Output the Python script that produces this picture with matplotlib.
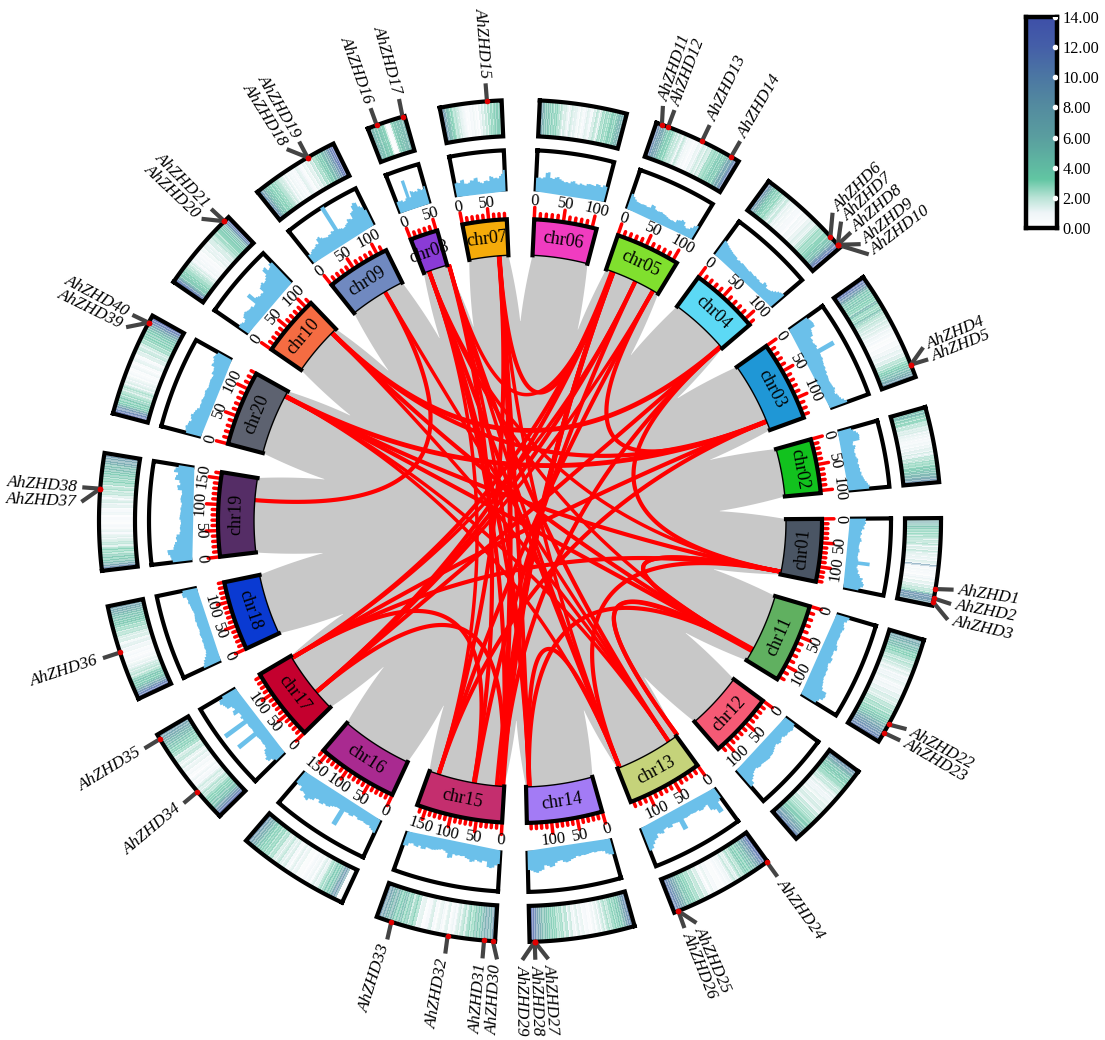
import matplotlib
matplotlib.use("Agg")
import matplotlib.pyplot as plt
from matplotlib.colors import LinearSegmentedColormap
import numpy as np

plt.rcParams['font.family'] = ['Liberation Serif', 'DejaVu Serif']

chr_names = ["chr%02d" % i for i in range(1, 21)]
chr_colors = ["#4a5564", "#12c21e", "#1f97d6", "#5cd9f5", "#80e02e", "#f03cc0", "#f5ab0a", "#8a3bd6", "#7089c0", "#f56c42",
              "#60b060", "#f55a75", "#c5d37a", "#a37bf5", "#c42e6e", "#a92a90", "#c4002e", "#0a3ad2", "#552d66", "#5d6270"]
# sector edges in degrees, clockwise from north
chr_start = [89.6, 74.3, 54.6, 36.2, 18.9, 2.7, 349.0, 338.8, 321.4, 304.6,
             106.4, 126.5, 144.0, 164.2, 183.4, 205.0, 225.5, 245.0, 263.2, 284.8]
chr_end = [101.6, 84.7, 70.0, 49.5, 31.3, 14.7, 357.5, 344.1, 333.7, 316.2,
           121.6, 139.0, 158.5, 178.7, 199.9, 220.6, 239.5, 258.3, 279.3, 299.2]
chr_len = [132, 105, 135, 112, 108, 108, 84, 52, 118, 112,
           125, 118, 135, 148, 168, 160, 145, 140, 162, 130]

line01 = [.36, .34, .36, .33, .3, .32, .26, .24, .26, .23, .22, .25, .26, .22, .21, .2, .2, .22, .23, .2, .2, .19, .2, .22, .52, .52, .22, .2, .23, .26, .25, .3, .32, .4, .38, .42, .45, .44, .38, .34]
line02 = [.3, .34, .4, .44, .46, .45, .44, .26, .24, .3, .28, .25, .24, .26, .25, .27, .3, .29, .27, .3, .29, .31, .3, .33, .32, .35, .37, .39, .43, .46, .5, .48]
line03 = [.5, .53, .55, .56, .55, .42, .4, .38, .3, .31, .28, .3, .32, .29, .74, .74, .3, .29, .3, .27, .26, .24, .25, .22, .23, .2, .21, .2, .19, .2, .21, .22, .25, .22, .2, .25, .27, .3, .36, .42]
line04 = [.4, .38, .35, .32, .3, .28, .26, .25, .24, .2, .22, .2, .22, .21, .2, .19, .18, .2, .19, .18, .2, .18, .19, .17, .18, .26, .24, .18, .19, .21, .25, .3, .35, .38, .4]
line05 = [.36, .3, .25, .21, .2, .19, .2, .2, .18, .19, .28, .27, .2, .18, .19, .2, .18, .17, .15, .13, .12, .13, .12, .2, .22, .26, .24, .15, .12, .14, .2, .28, .32]
line06 = [.3, .31, .29, .32, .44, .46, .32, .3, .34, .36, .31, .28, .25, .26, .24, .29, .31, .26, .24, .28, .26, .25, .3, .31, .3, .29, .35, .34, .3, .36, .34]
line07 = [.3, .31, .29, .35, .36, .25, .24, .26, .31, .3, .35, .36, .25, .22, .2, .25, .26, .24, .36, .34, .3, .31, .29, .35, .4, .5]
line08 = [.25, .26, .24, .25, .2, .21, .26, .72, .72, .25, .4, .38, .35, .36, .34, .4, .38, .34, .36, .42]
line09 = [.2, .18, .22, .25, .24, .26, .3, .28, .4, .42, .36, .32, .3, .28, .31, .3, .35, .33, 1.0, 1.0, .3, .28, .25, .26, .3, .32, .4, .38, .35, .5, .52, .65, .7, .68, .55, .5, .4]
line10 = [.25, .26, .24, .2, .22, .3, .33, .35, .32, .3, .29, .3, .25, .26, .55, .55, .36, .33, .3, .32, .3, .44, .47, .5, .45, .46, .5, .55, .7, .72, .6, .62, .7, .68]
line11 = [.3, .26, .2, .22, .25, .22, .2, .21, .2, .19, .2, .24, .26, .2, .21, .2, .25, .24, .2, .22, .25, .24, .26, .25, .27, .3, .32, .36, .5, .52, .5, .42, .38]
line12 = [.25, .28, .3, .27, .25, .26, .24, .2, .22, .26, .24, .2, .22, .25, .28, .3, .3, .32, .31, .3, .29, .28, .3, .28, .25, .27, .3, .36, .4, .5, .52]
line13 = [.25, .3, .56, .56, .42, .38, .2, .22, .25, .24, .2, .21, .2, .19, .2, .21, .2, .46, .46, .21, .2, .19, .25, .24, .2, .22, .3, .28, .25, .35, .38, .46, .55, .58]
line14 = [.36, .34, .3, .22, .2, .19, .2, .18, .19, .2, .21, .2, .22, .2, .24, .26, .3, .32, .3, .25, .26, .3, .38, .4, .36, .34, .45, .48, .52, .5, .46, .44]
line15 = [.3, .34, .4, .42, .4, .26, .25, .3, .28, .25, .3, .32, .26, .24, .2, .21, .2, .22, .2, .3, .32, .2, .16, .14, .16, .18, .2, .21, .2, .19, .25, .26, .2, .25, .24, .2, .22, .3, .32]
line16 = [.32, .28, .25, .2, .21, .2, .18, .19, .2, .16, .15, .2, .21, .18, .19, .62, .62, .2, .2, .22, .25, .3, .32, .3, .35, .36, .3, .32, .4, .42, .5, .48, .4, .38, .4, .3, .32, .3]
line17 = [.25, .3, .4, .42, .36, .34, .3, .22, .2, .21, .2, .19, .2, .21, .75, .75, .2, .19, .2, .21, .2, .85, .85, .22, .25, .2, .21, .35, .33, .25, .28, .4, .42, .45, .5, .48, .36]
line18 = [.42, .38, .35, .3, .25, .22, .2, .21, .2, .19, .2, .18, .19, .2, .18, .17, .18, .19, .18, .2, .19, .18, .17, .18, .2, .21, .22, .25, .24, .26, .35, .36, .33]
line19 = [.45, .48, .5, .55, .56, .4, .38, .35, .3, .32, .3, .22, .2, .21, .2, .18, .19, .22, .21, .2, .19, .2, .18, .17, .2, .21, .2, .18, .19, .3, .32, .25, .28, .4, .38, .34, .45, .42, .35]
line20 = [.35, .38, .4, .36, .35, .3, .33, .35, .3, .28, .25, .2, .21, .2, .22, .2, .19, .2, .22, .2, .18, .19, .2, .21, .2, .19, .25, .24, .26, .35, .33, .36, .4, .38, .35]
line_values = [line01, line02, line03, line04, line05, line06, line07, line08, line09, line10,
               line11, line12, line13, line14, line15, line16, line17, line18, line19, line20]

heat01 = [7, 6, 6.5, 5, 4, 4.5, 3, 3.5, 2.5, 3, 2, 2.8, 1.5, 2.4, 1.8, 2.6, 1, 2, 1.4, 2.4, 1, 1.6, .8, 1.4, 1, 1.8, 1.2, 9, 1, .6, 1, .4, .8, .3, 1, 1.2, .6, 1.6, 1, 2, 1.4, 2.4, 2, 3, 9, 9.5, 8.5, 9, 8, 7.5]
heat02 = [6, 5, 4, 7, 3, 4, 2.5, 3.2, 2.8, 1.5, 2.4, 2, 1, 1.8, 1.6, .8, 1.4, .7, 1.2, .4, .9, .6, 1.1, .5, 1.3, .8, 1.6, 1.2, 2, 1, 1.5, 2.5, 2, 2.2, 3, 2.4, 2.8, 3.4, 4, 3.2, 5, 4.5, 6, 5.5, 7, 8, 10, 11]
heat03 = [13, 12, 11, 9, 7, 5, 4, 3.5, 4.5, 3, 3.5, 2.8, 6, 3.2, 2.5, 2.9, 5, 2.2, 2.6, 1.8, 2.2, 1.5, 1.9, 1.2, 1.6, .8, 1.2, .5, 1, .3, .6, .2, .9, .4, 1.2, .8, 1.5, 1, 1.8, 1.4, 2.6, 2.2, 3, 3.5, 4, 4.8, 5.5, 6.5, 8, 9]
heat04 = [11, 10, 8, 6, 5, 3.5, 4, 3, 2.6, 3.2, 2, 2.4, 1.5, 2.2, 1.8, 1, 1.4, .6, 1.2, .3, 1, .5, .8, .2, 1.2, .7, 1, .4, 1.4, 1, 1.8, 1.2, 1.5, 2.4, 2, 2.6, 3, 2.4, 2.8, 3.4, 3, 3.5, 4.5, 4, 5, 7, 9, 11, 12, 13]
heat05 = [12, 11, 9, 7.5, 8, 6, 5, 3.5, 4, 3, 3.4, 2, 2.5, 1.5, 2.4, 1, 1.8, 2.2, .8, 1.2, .6, 1, .3, .8, .5, 1.4, 1, 1.6, 2, 1.4, 2.4, 1.2, 2, 3, 2.4, 3.2, 2.6, 4, 3.5, 4.4, 3, 5, 6, 8, 7, 9, 11, 12]
heat06 = [9, 8, 6, 5, 4, 5, 3, 4, 2.5, 3.5, 3, 2, 2.6, 1, 2, 1.6, .8, 1.4, 2, 1, 1.6, 1.2, .6, 1.4, .3, .8, 1.2, 1.6, 1, .7, 2, 1.4, 2.6, 1.2, 2, 3, 2.4, 3.5, 2.5, 3, 3.5, 4, 3, 4.5, 5, 5.5, 6, 7]
heat07 = [11, 10, 8, 6, 4.5, 5, 3, 3.5, 2.5, 2, 2.6, 1.5, 2, .8, 1.4, .5, 1, .2, .5, .3, 1, .4, 1.2, .6, .8, .2, 1.4, 1, 2, 1.2, 2.4, 1.8, 2.8, 2.2, 3.4, 2.6, 3, 4, 3.6, 4.2, 3.4, 4.8]
heat08 = [5, 6, 5.5, 4.5, 5, 4, 4.5, 3.5, 4, 3.5, 3, .6, .2, .3, 1, 3, 4, 4.5, 4, 5, 4.5, 5.5, 5, 6, 6.5]
heat09 = [11, 10, 8, 6, 4, 4.5, 3.5, 3, 3.6, 2.5, 3, 2, 2.4, 1.4, 2, 1, 1.5, .6, 1.2, .5, 1, .3, 1, 1.6, 1, .8, .3, 1.4, .7, 1.8, 1.2, 2.4, 1.6, 3, 2.2, 3.6, 4, 3.4, 5.5, 5, 7, 8, 10, 12, 13, 12]
heat10 = [13, 12, 10, 7, 4.5, 3.5, 4, 3, 3.4, 2.4, 2.8, 2, 2.2, 1.4, 1.8, 1, .6, 1.2, .4, 1, .2, .8, .3, 1.2, .6, 1.6, 1, 1.4, .8, 2, 1.4, 1.8, 2.4, 2, 3, 2.6, 3.4, 3, 4, 3.4, 4.6, 5, 7, 10, 12, 13]
heat11 = [6, 7, 6.5, 5.5, 4.5, 5, 3.5, 3, 3.4, 2.4, 2, 2.6, 1.6, 2, 1.2, 1.6, .8, 1.2, 1, 1.4, .5, .9, 1.2, .8, 1.6, 1.2, 2, 1.4, 1.8, 2.6, 2, 3, 2.4, 3.6, 3, 4.5, 4, 6, 7, 8.5, 9, 10, 11, 11.5]
heat12 = [10, 9, 8, 6, 5, 4, 3.5, 4, 3, 3.4, 2.4, 2.8, 1.6, 2.2, 2, 1.2, 1.6, .8, 1.2, 1, 1.4, .6, 1.8, 1.2, 2, 1.6, 1, 2.4, 2, 2.8, 2.2, 3, 2.6, 3.5, 4, 3.4, 5.5, 6, 7.5, 9, 10, 12]
heat13 = [13, 12.5, 11, 9, 7, 6, 4, 5, 3.2, 3.6, 4, 2.6, 2, 2.8, 1.2, 1.6, 2.2, .8, 1.2, .5, 1, .2, .6, .3, 1, .6, 1.4, .2, 1, 2, 1.4, 2.6, 1.8, 3, 2.4, 3.6, 3, 4.5, 4, 6, 7, 8.5, 10, 11, 12]
heat14 = [11, 10, 9, 7, 5, 3.5, 4, 2.8, 3.4, 2.4, 2, 2.8, 1.5, 2.2, .8, 1.6, .5, 1.2, .2, .4, 1, .3, 1.4, .8, 1.8, .5, 1.2, 2.2, 1, 2.8, 2, 3, 2.4, 2.6, 3.4, 3, 4, 3.4, 5, 4.5, 6, 7, 9, 11, 13, 12]
heat15 = [10, 8, 5.5, 7, 6, 5, 3.5, 4.5, 3, 2.5, 3.4, 1.8, 2.6, 1.4, 2, .8, 1.2, .4, 1.8, .6, 1, 1.4, .3, .8, 2, 1, .5, .2, 1.6, 1, 2.8, 3.6, 2.2, 4, 3, 5, 4, 3.5, 5, 6, 5, 7, 8, 10]
heat16 = [1.5, .3, .2, 7, 9, 6, 4, 3.5, 4, 2.2, 3, 1.6, 1, 1.8, .5, 1.2, .4, 1, .2, .6, .3, 1.4, .8, 1.6, .4, 1, 2, 1.2, 1.5, 2.4, 1.2, 1.8, 2.8, 2.2, 3.2, 2.6, 3.6, 3, 4, 4.6, 6, 7, 8.5, 10]
heat17 = [13, 12, 10, 8, 5.5, 4, 4.5, 3.5, 3, 3.4, 2.4, 2, 2.6, 1.2, 1.6, 2, .8, 1, .5, 1.2, .2, .6, 1, .4, 1.4, .8, 1.8, .6, 1.4, 2.4, 2, 1.6, 3, 2.6, 3.6, 3, 4.5, 4, 5.5, 5, 6.5, 7, 8, 9]
heat18 = [13, 12, 11, 8.5, 6, 4.5, 3.5, 3.8, 4.2, 2.8, 2, 2.4, 1.6, 2, 1, 1.4, .6, 1, .3, .5, .8, .3, 1.2, .8, 1.6, 1.2, .6, 2, 1.4, 1.8, 2.6, 2, 3, 2.4, 3.4, 4, 3.6, 4.6, 4, 5, 6, 6.5, 7.5, 8]
heat19 = [11, 9, 6, 4.5, 3.5, 4, 2.5, 3, 3.2, 1.6, 2.4, 2, 1.2, 1.6, .8, 1.4, .7, 1, .3, .5, .8, .2, 1.2, 1, .4, 1.6, 1.2, 2, .8, 1.6, 2.4, 2, 2.8, 1.8, 3, 3.4, 2.6, 4, 3.4, 4.6, 5, 4.5, 6.5, 7, 8, 9]
heat20 = [13, 12, 10, 8, 5, 3.2, 3.6, 4, 2.4, 3, 1.8, 2.2, 2.6, 1.2, 1.8, .8, 1.4, .6, .9, .3, .5, 1.2, .2, .7, 1.5, 1, .4, 1.8, 1.4, 2.4, 1.6, 2, 3, 2.4, 3.6, 3.2, 4, 3.4, 4.8, 5.5, 8, 10, 12, 13]
heat_values = [heat01, heat02, heat03, heat04, heat05, heat06, heat07, heat08, heat09, heat10,
               heat11, heat12, heat13, heat14, heat15, heat16, heat17, heat18, heat19, heat20]

# gene number, dot angle, label angle
gene_ids = [1, 2, 3, 4, 5, 6, 7, 8, 9, 10, 11, 12, 13, 14, 15, 16, 17, 18, 19, 20,
            21, 22, 23, 24, 25, 26, 27, 28, 29, 30, 31, 32, 33, 34, 35, 36, 37, 38, 39, 40]
gene_theta = [99.3, 100.6, 101.1, 68.2, 68.2, 47.5, 49.0, 49.0, 49.0, 49.0,
              19.7, 20.6, 25.6, 30.1, 355.5, 340.1, 343.8, 329.7, 329.7, 315.4,
              315.4, 118.9, 120.2, 144.1, 157.9, 157.9, 178.0, 178.0, 178.0, 183.7,
              184.9, 189.9, 197.8, 230.0, 238.8, 251.8, 274.4, 274.4, 298.1, 298.1]
label_theta = [99.0, 100.9, 103.0, 66.7, 68.4, 45.4, 47.0, 48.9, 50.9, 52.6,
               19.0, 20.6, 25.6, 30.1, 355.5, 340.1, 344.0, 327.9, 329.8, 313.5,
               315.3, 118.3, 120.0, 144.1, 156.3, 158.0, 176.3, 178.0, 179.7, 183.0,
               184.9, 189.8, 197.6, 230.0, 238.8, 251.8, 272.5, 274.4, 296.2, 298.0]

# red links, angle a, angle b and line width
link_a = [20.5, 20.5, 101, 101, 119.3, 119, 101, 49, 30, 178, 178, 239, 230, 274.5,
          298, 298, 298, 298, 315, 315, 315, 340, 340, 340, 344.5, 344.5, 355.5, 355.5, 355.5,
          20.5, 20.5, 20.5, 20.2, 25.7, 30, 49, 49, 68, 68, 101, 119, 329.5,
          340, 344.5, 344.5, 355.5, 25.7, 30, 298, 315, 20.5, 25.7, 101, 119]
link_b = [355.5, 344.5, 119, 118.8, 143.7, 143.7, 158, 101, 68, 184, 158, 190, 184, 329.5,
          68, 101, 119, 146, 49, 68, 119, 158, 178, 184, 146, 190, 184, 178, 197.8,
          184, 183.7, 230, 239, 189.8, 197.8, 230, 184, 239, 197.8, 239, 178, 146,
          197.8, 158, 178, 158, 239, 230, 158, 146, 185, 230, 340, 340]
link_w = [3, 2.5, 3, 3, 3, 3, 3, 3, 3, 3.5, 3, 3, 3, 3,
          3.5, 3, 3, 2.5, 3.5, 3, 3, 3, 3, 3, 3, 3, 3.5, 3, 3,
          3.5, 3.5, 3, 3, 3, 3, 3, 3, 3, 3, 3, 3, 2.5,
          2.5, 2.5, 2.5, 2.5, 2.5, 2.5, 2.5, 2.5, 3, 3, 2.5, 2.5]

legend_ticks = [0, 2, 4, 6, 8, 10, 12, 14]

BLOCK_IN, BLOCK_OUT = 266, 302
LINE_IN, LINE_OUT = 332, 371
HEAT_IN, HEAT_OUT = 385, 421
TIP_R = 198

heat_cmap = LinearSegmentedColormap.from_list("heat", [(0, "#ffffff"), (1 / 14, "#eef5f8"), (2 / 14, "#b9e3d6"), (3.2 / 14, "#62c6a3"),
                                                        (6 / 14, "#5a9e9f"), (8 / 14, "#548c9f"), (10 / 14, "#4c77a3"), (12 / 14, "#455fa8"), (1, "#3e4fa8")])


def text_rotation(theta):
    # along the tangent, kept readable
    if theta < 90 or theta >= 270:
        return -theta
    return 180 - theta


def box_outline(t0, t1, r0, r1):
    arc = np.linspace(t0, t1, 40)
    th = np.concatenate([arc, arc[::-1], arc[:1]])
    rr = np.concatenate([np.full(40, r1), np.full(40, r0), [r1]])
    return np.radians(th), rr


def draw_grey(ax):
    ax.fill(np.linspace(0, 2 * np.pi, 200), np.full(200, TIP_R + 2), color="#c8c8c8", lw=0, zorder=1)
    order = np.argsort(np.array(chr_start) % 360)
    starts = np.array(chr_start)[order]
    ends = np.array(chr_end)[order]
    n = len(starts)
    s = np.linspace(0, 1, 20)
    for i in range(n):
        prev_end = ends[i - 1] - (360 if i == 0 else 0)
        next_start = starts[(i + 1) % n] + (360 if i == n - 1 else 0)
        half_prev = (starts[i] - prev_end) / 2
        half_next = (next_start - ends[i]) / 2
        th_in = (prev_end + starts[i]) / 2 + half_prev * s ** 1.1
        th_out = (ends[i] + next_start) / 2 - half_next * s[::-1] ** 1.1
        r_in = TIP_R + (BLOCK_IN - TIP_R) * s
        arc = np.linspace(starts[i], ends[i], 30)
        th = np.concatenate([th_in, arc, th_out, [th_out[-1]]])
        rr = np.concatenate([r_in, np.full(30, BLOCK_IN), r_in[::-1], [0]])
        ax.fill(np.radians(th), rr, color="#c8c8c8", lw=0, zorder=1)


def draw_links(ax):
    for a, b, w in zip(link_a, link_b, link_w):
        t = np.linspace(0, 1, 80)
        p0 = 266 * np.array([np.sin(np.radians(a)), np.cos(np.radians(a))])
        p2 = 266 * np.array([np.sin(np.radians(b)), np.cos(np.radians(b))])
        # quadratic bezier, control point in the centre
        x = (1 - t) ** 2 * p0[0] + t ** 2 * p2[0]
        y = (1 - t) ** 2 * p0[1] + t ** 2 * p2[1]
        ax.plot(np.arctan2(x, y), np.hypot(x, y), color="#ff0000", lw=w, solid_capstyle="butt", zorder=3)


def draw_sector(ax, i):
    t0, t1 = chr_start[i], chr_end[i]
    if t1 < t0:
        t1 += 360

    # chromosome block, thin black on the inner side
    th, rr = box_outline(t0, t1, BLOCK_IN, BLOCK_OUT)
    ax.fill(th, rr, color=chr_colors[i], lw=0, zorder=4)
    ax.plot(th[40:80], rr[40:80], color="black", lw=1, zorder=6)
    arc = np.radians(np.linspace(t0, t1, 40))
    ax.plot(np.concatenate([arc[:1], arc, arc[-1:]]), np.concatenate([[BLOCK_IN], np.full(40, BLOCK_OUT), [BLOCK_IN]]),
            color="black", lw=3, zorder=6, solid_joinstyle="miter")
    mid = (t0 + t1) / 2
    ax.text(np.radians(mid), (BLOCK_IN + BLOCK_OUT) / 2, chr_names[i], fontsize=13, rotation=text_rotation(mid % 360),
            ha="center", va="center", rotation_mode="anchor", zorder=7)

    # ticks
    for mb in range(0, chr_len[i] + 1, 10):
        a = np.radians(t0 + (t1 - t0) * mb / chr_len[i])
        top = 314 if mb % 50 == 0 else 308
        ax.plot([a, a], [BLOCK_OUT, top], color="#ff0000", lw=2.5, solid_capstyle="round", zorder=5)
        if mb % 50 == 0:
            d = t0 + (t1 - t0) * mb / chr_len[i]
            ax.text(a, 320, str(mb), fontsize=12, rotation=text_rotation(d % 360), ha="center", va="center",
                    rotation_mode="anchor", zorder=7)

    # line track
    th, rr = box_outline(t0, t1, LINE_IN, LINE_OUT)
    ax.plot(th, rr, color="black", lw=3, zorder=4, solid_joinstyle="miter")
    vals = np.array(line_values[i])
    edges = np.linspace(t0, t1, len(vals) + 1)
    th_step = np.repeat(edges, 2)[1:-1]
    r_step = LINE_IN + np.repeat(vals, 2) * (LINE_OUT - LINE_IN)
    th_poly = np.concatenate([th_step, [t1, t0]])
    r_poly = np.concatenate([r_step, [LINE_IN - 2, LINE_IN - 2]])
    ax.fill(np.radians(th_poly), r_poly, color="#6bc0ea", lw=0, zorder=5)

    # heat track
    vals = np.array(heat_values[i], dtype=float)
    edges = np.radians(np.linspace(t0, t1, len(vals) + 1))
    ax.pcolormesh(edges, [HEAT_IN, HEAT_OUT], vals[np.newaxis, :], cmap=heat_cmap, vmin=0, vmax=14, alpha=.5,
                  shading="flat", antialiased=False, zorder=2)
    th, rr = box_outline(t0, t1, HEAT_IN, HEAT_OUT)
    ax.plot(th, rr, color="black", lw=3, zorder=4, solid_joinstyle="miter")


def draw_genes(ax):
    for g, t, lt in zip(gene_ids, gene_theta, label_theta):
        ax.plot(np.radians([t, lt]), [HEAT_OUT, 439], color="#444444", lw=3, solid_capstyle="butt", zorder=5)
        ax.plot(np.radians(t), HEAT_OUT, "o", color="#e00000", ms=4, mew=0, zorder=6)
        if lt < 180:
            rot, ha = 90 - lt, "left"
        else:
            rot, ha = 270 - lt, "right"
        ax.text(np.radians(lt), 444, "AhZHD%d" % g, fontsize=12.3, style="italic", rotation=rot, ha=ha, va="center",
                rotation_mode="anchor", zorder=7)


def draw_legend(fig):
    cax = fig.add_axes([1026 / 1105, 1 - 228 / 1040, 31 / 1105, 211 / 1040])
    grad = np.linspace(0, 14, 256)[:, np.newaxis]
    cax.imshow(grad, origin="lower", aspect="auto", cmap=heat_cmap, vmin=0, vmax=14, extent=[0, 1, 0, 14])
    cax.scatter([.93] * (len(legend_ticks) - 1), legend_ticks[1:], s=9, color="white", zorder=3, clip_on=True)
    cax.set_xticks([])
    cax.yaxis.tick_right()
    cax.set_yticks(legend_ticks)
    cax.set_yticklabels(["%.2f" % v for v in legend_ticks], fontsize=11.7)
    cax.tick_params(axis="y", length=0, pad=4)
    for s in cax.spines.values():
        s.set_linewidth(3.2)


def main():
    fig = plt.figure(figsize=(11.05, 10.4), dpi=100)
    ax = fig.add_axes([0, -1 / 1040, 1040 / 1105, 1], projection="polar")
    ax.set_theta_zero_location("N")
    ax.set_theta_direction(-1)
    ax.set_ylim(0, 520)
    ax.axis("off")

    draw_grey(ax)
    draw_links(ax)
    for i in range(len(chr_names)):
        draw_sector(ax, i)
    draw_genes(ax)
    ax.set_ylim(0, 520)
    draw_legend(fig)

    fig.savefig("out.png", dpi=100)


if __name__ == '__main__':
    main()
